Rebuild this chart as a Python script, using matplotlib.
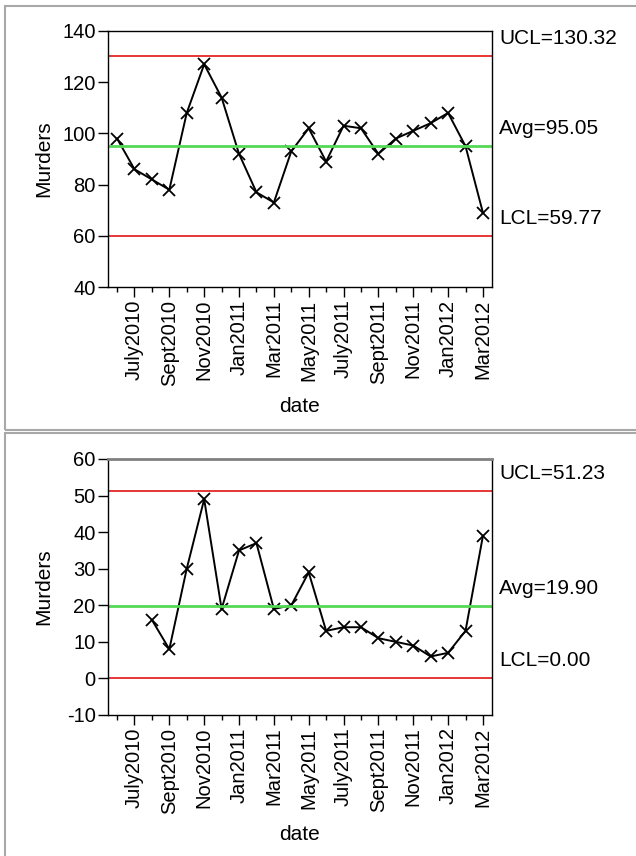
import numpy as np
import matplotlib
matplotlib.use("Agg")
import matplotlib.pyplot as plt
from matplotlib.patches import Rectangle
from matplotlib.lines import Line2D

plt.rcParams['font.family'] = ['Liberation Sans', 'DejaVu Sans']
plt.rcParams['axes.unicode_minus'] = False

# monthly points, June 2010 .. Mar 2012
months = ['June2010', 'July2010', 'Aug2010', 'Sept2010', 'Oct2010', 'Nov2010',
          'Dec2010', 'Jan2011', 'Feb2011', 'Mar2011', 'Apr2011', 'May2011',
          'June2011', 'July2011', 'Aug2011', 'Sept2011', 'Oct2011', 'Nov2011',
          'Dec2011', 'Jan2012', 'Feb2012', 'Mar2012']
labelled = ['July2010', 'Sept2010', 'Nov2010', 'Jan2011', 'Mar2011', 'May2011',
            'July2011', 'Sept2011', 'Nov2011', 'Jan2012', 'Mar2012']

murders_top = [98, 86, 82, 78, 108, 127, 114, 92, 77, 73, 93, 102,
               89, 103, 102, 92, 98, 101, 104, 108, 95, 69]
murders_bot = [None, None, 16, 8, 30, 49, 19, 35, 37, 19, 20, 29,
               13, 14, 14, 11, 10, 9, 6, 7, 13, 39]

limits_top = {'UCL': 130.32, 'Avg': 95.05, 'LCL': 59.77}
limits_bot = {'UCL': 51.23, 'Avg': 19.90, 'LCL': 0.00}

W, H = 636, 856
fig = plt.figure(figsize=(W / 100, H / 100), dpi=100)

def px(x0, y0, x1, y1):
    return [x0 / W, 1 - y1 / H, (x1 - x0) / W, (y1 - y0) / H]

# gray JMP outline boxes
for (y0, y1) in [(6, 430), (433, 860)]:
    fig.add_artist(Rectangle((5 / W, 1 - y1 / H), 640 / W, (y1 - y0) / H,
                             transform=fig.transFigure, fill=False,
                             edgecolor='#a8a8a8', lw=1.5))

def chart(box, vals, lims, ylim, yticks, ylab_y, date_y, gray_top=False):
    ax = fig.add_axes(px(*box))
    x = np.arange(1, len(months) + 1)
    y = np.array([np.nan if v is None else v for v in vals], dtype=float)
    ax.plot(x, y, color='black', lw=1.4, marker='x', ms=9, mew=1.3)
    ax.axhline(lims['UCL'], color='#e00000', lw=1.1)
    ax.axhline(lims['LCL'], color='#e00000', lw=1.1)
    ax.axhline(lims['Avg'], color='#55d855', lw=2)
    for k in ['UCL', 'Avg', 'LCL']:
        ax.annotate(f"{k}={lims[k]:.2f}", xy=(1, lims[k]),
                    xycoords=('axes fraction', 'data'), xytext=(5, 8.6),
                    textcoords='offset points', ha='left', va='baseline',
                    fontsize=15)
    ax.set_xlim(0.48, len(months) + 0.52)
    ax.set_ylim(*ylim)
    ax.set_yticks(yticks)
    maj = [months.index(m) + 1 for m in labelled]
    ax.set_xticks(maj)
    ax.set_xticklabels(labelled, rotation=90)
    ax.set_xticks([i + 1 for i, m in enumerate(months) if m not in labelled], minor=True)
    ax.tick_params(axis='both', which='major', length=7, width=1, labelsize=14.5, pad=2)
    ax.tick_params(axis='x', which='minor', length=3.6, width=1)
    for s in ax.spines.values():
        s.set_linewidth(1)
    if gray_top:
        ax.spines['top'].set_color('#808080')
        ax.spines['top'].set_linewidth(2)
    fig.text(44 / W, 1 - ylab_y / H, 'Murders', rotation=90, ha='center',
             va='center', fontsize=15)
    fig.text(300 / W, 1 - date_y / H, 'date', ha='center', va='center', fontsize=15)
    return ax

chart((108, 31, 492, 287), murders_top, limits_top, (40, 140),
      range(40, 141, 20), 159, 407)
chart((108, 459, 492, 715), murders_bot, limits_bot, (-10, 60),
      range(-10, 61, 10), 587, 835, gray_top=True)

fig.savefig('out.png', dpi=100)
